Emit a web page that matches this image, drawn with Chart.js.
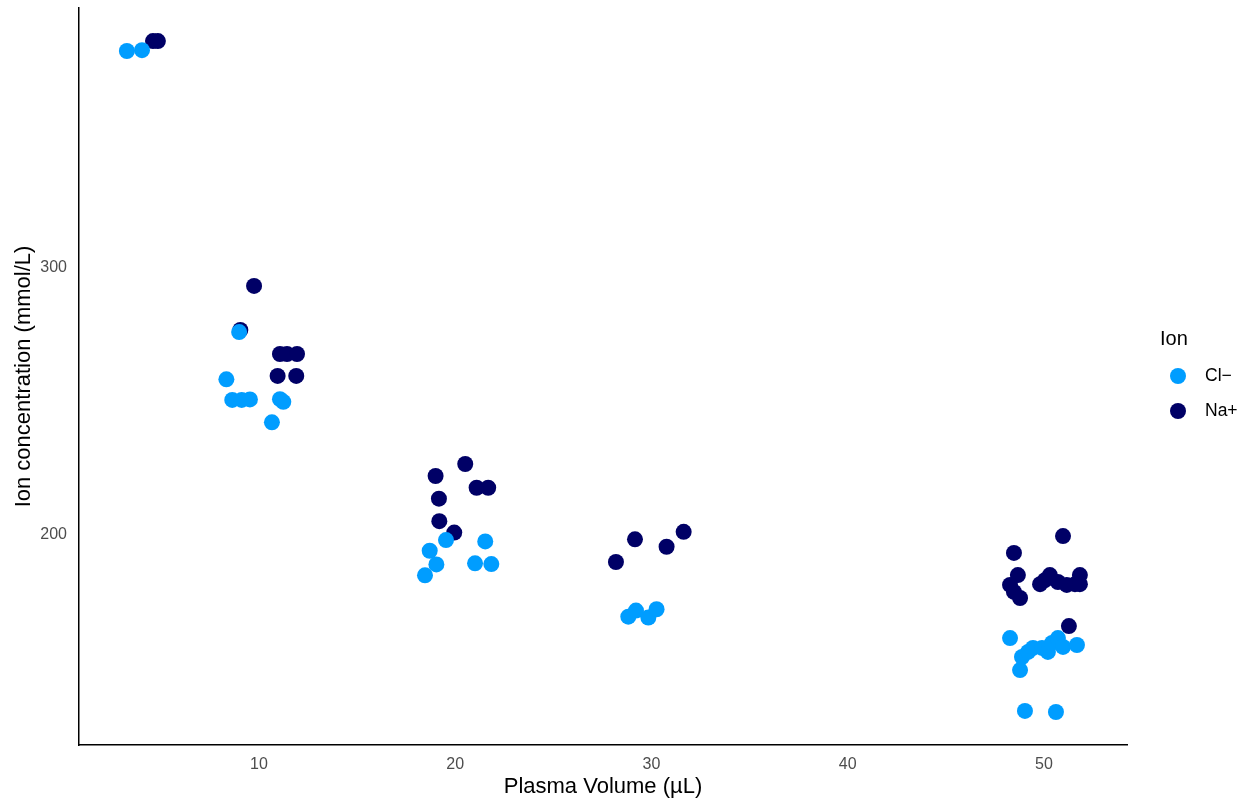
<!DOCTYPE html>
<html>
<head>
<meta charset="utf-8">
<script src="https://cdn.jsdelivr.net/npm/chart.js@4/dist/chart.umd.min.js"></script>
<style>
  html, body { margin: 0; padding: 0; background: #fff; }
  #wrap { width: 1248px; height: 803px; }
</style>
</head>
<body>
<div id="wrap"><canvas id="chart"></canvas></div>
<script>
// ── Data ─────────────────────────────────────────────────────────
const clVolume = [3.27, 4.04,
  8.99, 8.34, 8.64, 9.12, 9.54, 11.07, 11.24, 10.66,
  19.53, 21.53, 18.70, 19.04, 21.01, 21.84, 18.46,
  28.82, 29.21, 29.84, 30.26,
  48.27, 48.78, 48.88, 49.19, 49.44, 49.90, 50.20, 50.41, 50.71, 50.97, 51.68, 49.03, 50.61];
const clConc = [381.3, 381.6,
  276.0, 258.3, 250.6, 250.6, 250.8, 250.9, 249.9, 242.2,
  198.1, 197.6, 194.1, 189.0, 189.4, 189.1, 184.9,
  169.4, 171.7, 169.1, 172.2,
  161.4, 149.4, 154.3, 156.2, 157.7, 157.7, 156.2, 159.6, 161.4, 158.1, 158.8, 134.1, 133.7];

const naVolume = [4.60, 4.85,
  9.75, 9.05, 11.07, 11.43, 11.94, 10.95, 11.90,
  20.51, 19.00, 21.09, 21.68, 19.17, 19.19, 19.95,
  28.19, 29.16, 30.77, 31.64,
  48.47, 48.67, 48.27, 48.47, 48.78, 49.80, 50.05, 50.30, 50.71, 51.16, 51.58, 51.83, 51.83, 50.97, 51.27];
const naConc = [385.0, 385.0,
  293.3, 276.8, 267.8, 267.8, 267.8, 259.6, 259.6,
  226.6, 222.1, 217.7, 217.7, 213.6, 205.2, 200.9,
  189.9, 198.4, 195.6, 201.2,
  193.3, 185.0, 181.3, 178.7, 176.4, 181.6, 183.1, 185.0, 182.4, 181.3, 181.6, 185.0, 181.6, 199.6, 165.9];

const ionNames = ['Cl\u2212', 'Na+'];
const ionColors = ['#009dff', '#000066'];
const xTicks = [10, 20, 30, 40, 50];
const yTicks = [200, 300];

const FONT = '"Liberation Sans", Arial, sans-serif';
const toPoints = (xs, ys) => xs.map((x, i) => ({ x, y: ys[i] }));

// ── Legend drawn at the right, ggplot style ──────────────────────
const ionLegend = {
  id: 'ionLegend',
  afterDraw(chart) {
    const ctx = chart.ctx;
    ctx.save();
    ctx.fillStyle = '#000';
    ctx.font = '20px ' + FONT;
    ctx.textBaseline = 'middle';
    ctx.fillText('Ion', 1160, 339);
    ionNames.forEach((name, i) => {
      const y = 376 + i * 35;
      ctx.beginPath();
      ctx.arc(1178, y, 8, 0, Math.PI * 2);
      ctx.fillStyle = ionColors[i];
      ctx.fill();
      ctx.fillStyle = '#000';
      ctx.font = '17.5px ' + FONT;
      ctx.fillText(name, 1205, y);
    });
    ctx.restore();
  }
};

new Chart(document.getElementById('chart'), {
  type: 'scatter',
  data: {
    datasets: [
      { label: ionNames[0], data: toPoints(clVolume, clConc), backgroundColor: ionColors[0],
        borderWidth: 0, pointRadius: 8, pointHoverRadius: 8 },
      { label: ionNames[1], data: toPoints(naVolume, naConc), backgroundColor: ionColors[1],
        borderWidth: 0, pointRadius: 8, pointHoverRadius: 8 },
    ],
  },
  options: {
    responsive: true,
    maintainAspectRatio: false,
    animation: false,
    layout: { padding: { top: 8, right: 121, left: 0, bottom: 0 } },
    plugins: { legend: { display: false }, tooltip: { enabled: false } },
    scales: {
      x: {
        type: 'linear',
        min: 0.83,
        max: 54.23,
        afterBuildTicks: s => { s.ticks = xTicks.map(v => ({ value: v })); },
        afterFit: s => { s.height = 58; s.paddingLeft = 0; s.paddingRight = 0; },
        grid: { display: false, drawTicks: false },
        border: { color: '#000', width: 1.5 },
        ticks: { color: '#4d4d4d', padding: 10, font: { size: 16, family: FONT } },
        title: { display: true, text: 'Plasma Volume (\u00b5L)', color: '#000',
          padding: { top: 0, bottom: 3 }, font: { size: 22, family: FONT } },
      },
      y: {
        type: 'linear',
        min: 121.35,
        max: 397.4,
        afterBuildTicks: s => { s.ticks = yTicks.map(v => ({ value: v })); },
        afterFit: s => { s.width = 79; s.paddingTop = 0; s.paddingBottom = 0; },
        grid: { display: false, drawTicks: false },
        border: { color: '#000', width: 1.5 },
        ticks: { color: '#4d4d4d', padding: 12, font: { size: 16, family: FONT } },
        title: { display: true, text: 'Ion concentration (mmol/L)', color: '#000',
          padding: { top: 11, bottom: 0 }, font: { size: 22, family: FONT } },
      },
    },
  },
  plugins: [ionLegend],
});
</script>
</body>
</html>
